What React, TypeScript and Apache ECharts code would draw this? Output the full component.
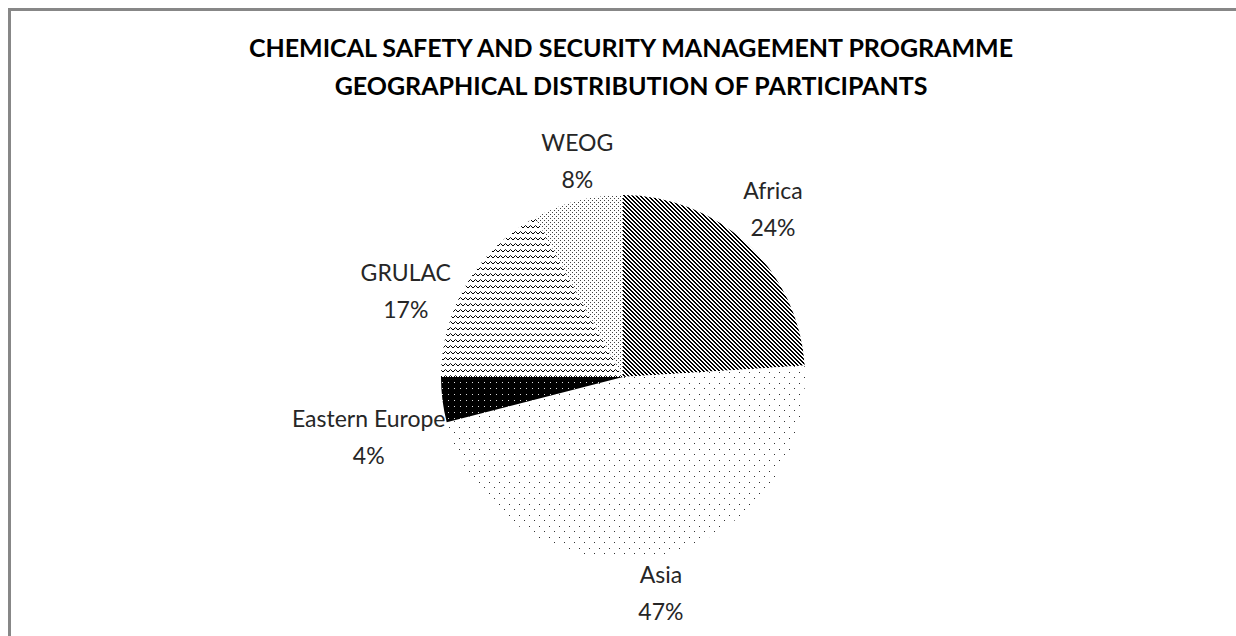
import React, { useEffect, useRef } from "react";
import * as echarts from "echarts";

const categories = ["Africa", "Asia", "Eastern Europe", "GRULAC", "WEOG"];
const shares = [24, 47, 4, 17, 8];
const titleLines = [
  "CHEMICAL SAFETY AND SECURITY MANAGEMENT PROGRAMME",
  "GEOGRAPHICAL DISTRIBUTION OF PARTICIPANTS",
];
// small angular nudges (degrees) mimicking the "best fit" label placement
const labelAngleShift = [-1.5, -1, -6, -9, 2.5];

function makeTile(w: number, h: number, draw: (ctx: CanvasRenderingContext2D) => void) {
  const c = document.createElement("canvas");
  c.width = w;
  c.height = h;
  const ctx = c.getContext("2d") as CanvasRenderingContext2D;
  draw(ctx);
  return c;
}

function buildPatterns() {
  const stripes = makeTile(4, 4, (ctx) => {
    ctx.fillStyle = "#fff";
    ctx.fillRect(0, 0, 4, 4);
    ctx.fillStyle = "#000";
    for (let y = 0; y < 4; y++)
      for (let x = 0; x < 4; x++)
        if ((x - y + 8) % 4 < 2) ctx.fillRect(x, y, 1, 1);
  });
  const sparseDots = makeTile(10, 11, (ctx) => {
    ctx.fillStyle = "#fff";
    ctx.fillRect(0, 0, 10, 11);
    ctx.fillStyle = "#333";
    ctx.fillRect(1, 1, 1, 1);
    ctx.fillRect(6, 6, 1, 1);
  });
  const blackDots = makeTile(6, 6, (ctx) => {
    ctx.fillStyle = "#000";
    ctx.fillRect(0, 0, 6, 6);
    ctx.fillStyle = "#ddd";
    ctx.fillRect(2, 2, 1, 1);
  });
  const waves = makeTile(5, 6, (ctx) => {
    ctx.fillStyle = "#fff";
    ctx.fillRect(0, 0, 5, 6);
    ctx.strokeStyle = "#000";
    ctx.lineWidth = 1;
    ctx.beginPath();
    ctx.moveTo(0, 4);
    ctx.lineTo(2.5, 1.5);
    ctx.lineTo(5, 4);
    ctx.stroke();
  });
  const denseDots = makeTile(4, 4, (ctx) => {
    ctx.fillStyle = "#fff";
    ctx.fillRect(0, 0, 4, 4);
    ctx.fillStyle = "#444";
    ctx.fillRect(0, 0, 1, 1);
    ctx.fillRect(2, 2, 1, 1);
  });
  return [stripes, sparseDots, blackDots, waves, denseDots];
}

export default function App() {
  const ref = useRef<HTMLDivElement>(null);

  useEffect(() => {
    if (!ref.current) return;
    const chart = echarts.init(ref.current, undefined, { renderer: "svg" });
    const patterns = buildPatterns();

    const cx = 615;
    const cy = 369;
    const R = 182;
    const total = shares.reduce((a, b) => a + b, 0);
    const midAngles: number[] = [];
    let acc = 0;
    shares.forEach((v, i) => {
      midAngles.push(((acc + v / 2) / total) * Math.PI * 2 + (labelAngleShift[i] * Math.PI) / 180);
      acc += v;
    });

    chart.setOption({
      animation: false,
      backgroundColor: "#fff",
      title: {
        text: titleLines.join("\n"),
        left: 618,
        top: 15,
        textAlign: "center",
        textStyle: {
          fontFamily: "Lato",
          fontWeight: "bold",
          fontSize: 25,
          lineHeight: 38,
          color: "#000",
        },
      },
      graphic: [
        { type: "line", shape: { x1: 1.5, y1: 0, x2: 1.5, y2: 640 }, style: { stroke: "#878787", lineWidth: 3 } },
        { type: "line", shape: { x1: 0, y1: 1.5, x2: 1240, y2: 1.5 }, style: { stroke: "#878787", lineWidth: 3 } },
      ],
      series: [
        {
          type: "pie",
          center: [cx, cy],
          radius: R,
          startAngle: 90,
          clockwise: true,
          avoidLabelOverlap: false,
          itemStyle: { borderWidth: 0 },
          emphasis: { disabled: true },
          label: {
            show: true,
            position: "outside",
            formatter: "{b}\n{d}%",
            fontFamily: "Lato",
            fontSize: 23,
            lineHeight: 37,
            color: "#262626",
            align: "center",
          },
          labelLine: { show: false },
          labelLayout: (params: any) => {
            const i = params.dataIndex;
            const a = midAngles[i];
            const ux = Math.sin(a);
            const uy = -Math.cos(a);
            const w = params.labelRect.width;
            const h = params.labelRect.height;
            const d = R + Math.abs(ux) * w / 2 + Math.abs(uy) * h / 2 - 4;
            return {
              x: cx + d * ux,
              y: cy + d * uy,
              align: "center",
              verticalAlign: "middle",
            };
          },
          data: categories.map((name, i) => ({
            name,
            value: shares[i],
            itemStyle: { color: { image: patterns[i], repeat: "repeat" } },
          })),
        },
      ],
    });

    return () => chart.dispose();
  }, []);

  return (
    <div
      ref={ref}
      style={{ position: "fixed", left: 8, top: 8, width: 1228, height: 628 }}
    />
  );
}
